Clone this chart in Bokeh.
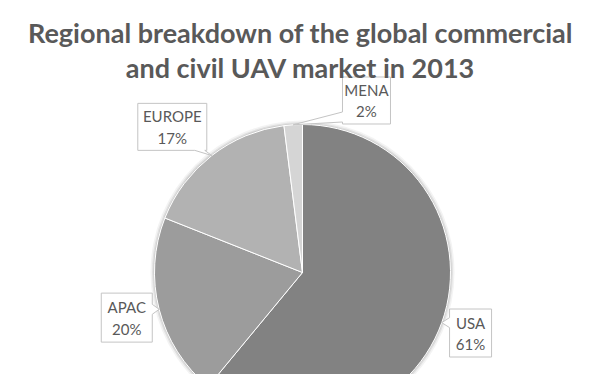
import math
from bokeh.plotting import figure
from bokeh.models import Range1d, ColumnDataSource
from bokeh.core.properties import value
from bokeh.embed import file_html
from bokeh.resources import INLINE

# ---- data ----
regions = ["USA", "APAC", "EUROPE", "MENA"]
shares = [61, 20, 17, 2]
pct_labels = ["61%", "20%", "17%", "2%"]
colors = ["#828282", "#9c9c9c", "#b2b2b2", "#d5d5d5"]
title_lines = ["Regional breakdown of the global commercial",
               "and civil UAV market in 2013"]

# ---- layout (picture pixel coordinates, y down) ----
W, H = 584, 374
PAGE_H = 390
CX, CY, R = 302, 272, 148
label_dist = [1.207, 1.226, 1.32, 1.24]
label_shift_deg = [0, 0, -4, 24]
box_w = [42, 51, 69, 48]
box_h = [48, 49, 47, 47]
TEXT = "#595959"
FONT = "Lato"


def Y(yp):
    return PAGE_H - yp


p = figure(width=W, height=H, output_backend="svg", toolbar_location=None,
           x_range=Range1d(0, W), y_range=Range1d(PAGE_H - H, PAGE_H),
           x_axis_type=None, y_axis_type=None, min_border=0)
p.outline_line_color = None
p.grid.visible = False
p.background_fill_color = "white"
p.border_fill_color = "white"

# pie angles from shares
total = float(sum(shares))
cum = 0.0
starts, ends, mids = [], [], []
for s in shares:
    a0 = cum / total
    cum += s
    a1 = cum / total
    starts.append(math.pi / 2 - 2 * math.pi * a0)
    ends.append(math.pi / 2 - 2 * math.pi * a1)
    mids.append((a0 + a1) / 2)

# soft edge shadow
for extra, alpha in [(4, 0.12), (2.5, 0.2), (1.2, 0.3)]:
    p.circle(x=CX, y=Y(CY), radius=R + extra, fill_color="#9a9a9a",
             fill_alpha=alpha, line_color=None)

src = ColumnDataSource(dict(start=starts, end=ends, color=colors, region=regions))
p.wedge(x=CX, y=Y(CY), radius=R, start_angle="start", end_angle="end",
        direction="clock", fill_color="color", line_color="white",
        line_width=1, source=src)


def callout(cx, cy, w, h, tx, ty, b=5):
    L, Rr, T, B = cx - w / 2, cx + w / 2, cy - h / 2, cy + h / 2
    dx, dy = tx - cx, ty - cy
    if abs(dx) / (w / 2) > abs(dy) / (h / 2):
        by = min(max(ty, T + b + 2), B - b - 2)
        if dx < 0:
            pts = [(L, T), (Rr, T), (Rr, B), (L, B), (L, by + b), (tx, ty), (L, by - b)]
        else:
            pts = [(L, T), (Rr, T), (Rr, by - b), (tx, ty), (Rr, by + b), (Rr, B), (L, B)]
    else:
        bx = min(max(tx, L + b + 2), Rr - b - 2)
        if dy < 0:
            pts = [(L, T), (bx - b, T), (tx, ty), (bx + b, T), (Rr, T), (Rr, B), (L, B)]
        else:
            pts = [(L, T), (Rr, T), (Rr, B), (bx + b, B), (tx, ty), (bx - b, B), (L, B)]
    return [q[0] for q in pts], [Y(q[1]) for q in pts]


xs, ys = [], []
tx1, ty1, tx2, ty2, t1, t2 = [], [], [], [], [], []
for i, m in enumerate(mids):
    ang = 2 * math.pi * m
    tipx, tipy = CX + R * math.sin(ang), CY - R * math.cos(ang)
    la = ang + math.radians(label_shift_deg[i])
    lx = CX + label_dist[i] * R * math.sin(la)
    ly = CY - label_dist[i] * R * math.cos(la)
    px, py = callout(lx, ly, box_w[i], box_h[i], tipx, tipy)
    xs.append(px)
    ys.append(py)
    tx1.append(lx); ty1.append(Y(ly - 10.5)); t1.append(regions[i])
    tx2.append(lx); ty2.append(Y(ly + 11)); t2.append(pct_labels[i])

p.patches(xs=xs, ys=ys, fill_color="white", line_color="#c4c4c4", line_width=1)
p.text(x=tx1, y=ty1, text=t1, text_font=value(FONT), text_font_size="15px",
       text_color=TEXT, text_align="center", text_baseline="middle")
p.text(x=tx2, y=ty2, text=t2, text_font=value(FONT), text_font_size="15px",
       text_color=TEXT, text_align="center", text_baseline="middle")

# title
p.text(x=[300, 300], y=[Y(32), Y(67)], text=title_lines, text_font=value(FONT),
       text_font_size="27px", text_font_style="bold", text_color=TEXT,
       text_align="center", text_baseline="alphabetic")

open("out.html", "w").write(file_html(p, INLINE))
